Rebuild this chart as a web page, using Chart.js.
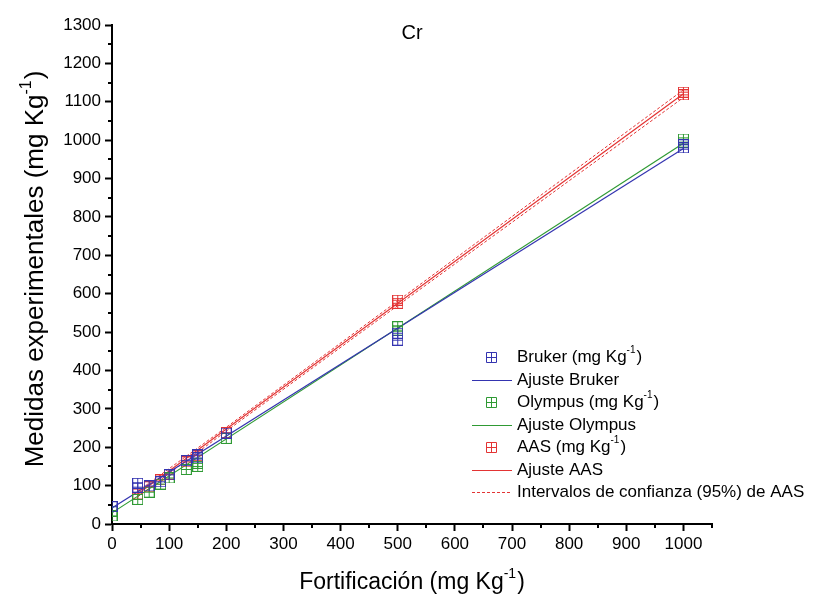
<!DOCTYPE html>
<html>
<head>
<meta charset="utf-8">
<title>Cr</title>
<script src="https://cdn.jsdelivr.net/npm/chart.js@4.4.1/dist/chart.umd.min.js"></script>
<style>
  body { margin: 0; background: #fff; }
  canvas { display: block; }
</style>
</head>
<body>
<canvas id="crChart" width="828" height="603"></canvas>
<script>
// Fortificación (mg/kg) y medidas de cada equipo
const fortBruker = [0, 45, 45, 65, 85, 100, 130, 150, 150, 200, 500, 500, 1000, 1000];
const medBruker  = [45, 106, 96, 99, 110, 128, 165, 180, 172, 237, 497, 479, 988, 980];

const fortOlympus = [0, 0, 45, 65, 85, 100, 130, 150, 150, 200, 500, 500, 1000, 1000];
const medOlympus  = [33, 21, 64, 83, 104, 120, 142, 158, 150, 223, 514, 505, 1003, 995];

const fortAAS = [45, 65, 85, 100, 130, 150, 200, 500, 500, 1000, 1000];
const medAAS  = [78, 97, 115, 130, 162, 178, 238, 583, 575, 1125, 1118];

// rectas de ajuste (extremos)
const ajusteBrukerX = [0, 1000];
const ajusteBrukerY = [42, 978];
const ajusteOlympusX = [0, 1000];
const ajusteOlympusY = [29, 992];
const ajusteAASX = [45, 1000];
const ajusteAASY = [78, 1121];

// intervalos de confianza 95% de AAS
const icX = [45, 200, 500, 1000];
const icSup = [85, 252, 581, 1131];
const icInf = [71, 242, 569, 1111];

const xTicks = [0, 100, 200, 300, 400, 500, 600, 700, 800, 900, 1000];

const AZUL = '#3434b0';
const VERDE = '#2f9a34';
const ROJO = '#e33434';
const FONT = '"Liberation Sans", Arial, sans-serif';

function pts(xs, ys) {
  return xs.map((x, i) => ({ x: x, y: ys[i] }));
}

// cuadrado con cruz, como el símbolo de Origin
function makeMarker(color, size) {
  const c = document.createElement('canvas');
  c.width = size + 1;
  c.height = size + 1;
  const g = c.getContext('2d');
  g.strokeStyle = color;
  g.lineWidth = 1;
  g.strokeRect(0.5, 0.5, size, size);
  const m = Math.floor(size / 2) + 0.5;
  g.beginPath();
  g.moveTo(m, 0.5); g.lineTo(m, size + 0.5);
  g.moveTo(0.5, m); g.lineTo(size + 0.5, m);
  g.stroke();
  return c;
}

const mkAzul = makeMarker(AZUL, 10), mkVerde = makeMarker(VERDE, 10), mkRojo = makeMarker(ROJO, 10);

// texto con superíndice: base + sup + cola
function drawSup(ctx, base, sup, tail, x, y, size, align) {
  const supSize = Math.round(size * 0.6);
  ctx.font = size + 'px ' + FONT;
  const wb = ctx.measureText(base).width;
  const wt = ctx.measureText(tail).width;
  ctx.font = supSize + 'px ' + FONT;
  const ws = ctx.measureText(sup).width;
  const total = wb + ws + wt + 1;
  let x0 = align === 'center' ? x - total / 2 : x;
  ctx.textAlign = 'left';
  ctx.textBaseline = 'middle';
  ctx.font = size + 'px ' + FONT;
  ctx.fillText(base, x0, y);
  ctx.font = supSize + 'px ' + FONT;
  ctx.fillText(sup, x0 + wb, y - size * 0.38);
  ctx.font = size + 'px ' + FONT;
  ctx.fillText(tail, x0 + wb + ws + 1, y);
}

const extras = {
  id: 'extras',
  afterDraw(chart) {
    const ctx = chart.ctx;
    const xs = chart.scales.x, ys = chart.scales.y;
    const area = chart.chartArea;
    ctx.save();

    // ticks menores
    ctx.strokeStyle = '#000';
    ctx.lineWidth = 2;
    ctx.beginPath();
    for (let v = 50; v <= 1050; v += 100) {
      const px = Math.round(xs.getPixelForValue(v));
      ctx.moveTo(px, area.bottom);
      ctx.lineTo(px, area.bottom + 4);
    }
    for (let v = 50; v <= 1250; v += 100) {
      const py = Math.round(ys.getPixelForValue(v));
      ctx.moveTo(area.left, py);
      ctx.lineTo(area.left - 4, py);
    }
    ctx.stroke();

    ctx.fillStyle = '#000';
    // título
    ctx.font = '20px ' + FONT;
    ctx.textAlign = 'center';
    ctx.textBaseline = 'middle';
    ctx.fillText('Cr', (area.left + area.right) / 2, 33);

    // títulos de ejes
    drawSup(ctx, 'Fortificación (mg Kg', '-1', ')', (area.left + area.right) / 2, 583, 23, 'center');
    ctx.save();
    ctx.translate(36, 269);
    ctx.rotate(-Math.PI / 2);
    drawSup(ctx, 'Medidas experimentales (mg Kg', '-1', ')', 0, 0, 26, 'center');
    ctx.restore();

    // leyenda
    const lx = 472, tx = 517, y0 = 357, dy = 22.5;
    const filas = [
      { tipo: 'p', color: AZUL, base: 'Bruker (mg Kg', sup: '-1', tail: ')' },
      { tipo: 'l', color: AZUL, base: 'Ajuste Bruker' },
      { tipo: 'p', color: VERDE, base: 'Olympus (mg Kg', sup: '-1', tail: ')' },
      { tipo: 'l', color: VERDE, base: 'Ajuste Olympus' },
      { tipo: 'p', color: ROJO, base: 'AAS (mg Kg', sup: '-1', tail: ')' },
      { tipo: 'l', color: ROJO, base: 'Ajuste AAS' },
      { tipo: 'd', color: ROJO, base: 'Intervalos de confianza (95%) de AAS' }
    ];
    filas.forEach((f, i) => {
      const y = Math.round(y0 + i * dy);
      ctx.strokeStyle = f.color;
      ctx.lineWidth = 1;
      if (f.tipo === 'p') {
        const cx = 491.5, cy = y + 0.5;
        ctx.beginPath();
        ctx.rect(cx - 5, cy - 5, 10, 10);
        ctx.moveTo(cx, cy - 5); ctx.lineTo(cx, cy + 5);
        ctx.moveTo(cx - 5, cy); ctx.lineTo(cx + 5, cy);
        ctx.stroke();
      } else {
        ctx.setLineDash(f.tipo === 'd' ? [3, 2] : []);
        ctx.beginPath();
        ctx.moveTo(lx, y + 0.5);
        ctx.lineTo(lx + 40, y + 0.5);
        ctx.stroke();
        ctx.setLineDash([]);
      }
      ctx.fillStyle = '#000';
      if (f.sup) {
        drawSup(ctx, f.base, f.sup, f.tail, tx, y, 17, 'left');
      } else {
        ctx.font = '17px ' + FONT;
        ctx.textAlign = 'left';
        ctx.textBaseline = 'middle';
        ctx.fillText(f.base, tx, y);
      }
    });
    ctx.restore();
  }
};

const lineaBase = { showLine: true, pointRadius: 0, pointHoverRadius: 0, borderWidth: 1.2, tension: 0 };

new Chart(document.getElementById('crChart'), {
  type: 'scatter',
  data: {
    datasets: [
      { label: 'Bruker (mg Kg-1)', data: pts(fortBruker, medBruker), pointStyle: mkAzul, borderColor: AZUL, backgroundColor: AZUL },
      { label: 'Olympus (mg Kg-1)', data: pts(fortOlympus, medOlympus), pointStyle: mkVerde, borderColor: VERDE, backgroundColor: VERDE },
      { label: 'AAS (mg Kg-1)', data: pts(fortAAS, medAAS), pointStyle: mkRojo, borderColor: ROJO, backgroundColor: ROJO },
      Object.assign({ label: 'Ajuste Bruker', data: pts(ajusteBrukerX, ajusteBrukerY), borderColor: AZUL }, lineaBase),
      Object.assign({ label: 'Ajuste Olympus', data: pts(ajusteOlympusX, ajusteOlympusY), borderColor: VERDE }, lineaBase),
      Object.assign({ label: 'Ajuste AAS', data: pts(ajusteAASX, ajusteAASY), borderColor: ROJO }, lineaBase),
      Object.assign({ label: 'IC sup', data: pts(icX, icSup), borderColor: ROJO, borderDash: [3, 2] }, lineaBase, { borderWidth: 1 }),
      Object.assign({ label: 'IC inf', data: pts(icX, icInf), borderColor: ROJO, borderDash: [3, 2] }, lineaBase, { borderWidth: 1 })
    ]
  },
  options: {
    responsive: false,
    maintainAspectRatio: false,
    animation: false,
    layout: { padding: { top: 25, right: 116, left: 0, bottom: 0 } },
    plugins: {
      legend: { display: false },
      tooltip: { enabled: false },
      title: { display: false }
    },
    scales: {
      x: {
        type: 'linear',
        min: 0,
        max: 1050,
        afterFit: (s) => { s.height = 79; },
        afterBuildTicks: (s) => { s.ticks = xTicks.map(v => ({ value: v })); },
        ticks: {
          color: '#000',
          font: { size: 17, family: FONT },
          padding: 3,
          maxRotation: 0,
          autoSkip: false,
          callback: (v) => String(v)
        },
        grid: { drawOnChartArea: false, tickLength: 7, tickWidth: 2, tickColor: '#000' },
        border: { display: true, color: '#000', width: 2 }
      },
      y: {
        type: 'linear',
        min: 0,
        max: 1300,
        afterFit: (s) => { s.width = 112; },
        ticks: {
          stepSize: 100,
          color: '#000',
          font: { size: 17, family: FONT },
          padding: 4,
          autoSkip: false,
          callback: (v) => String(v)
        },
        grid: { drawOnChartArea: false, tickLength: 7, tickWidth: 2, tickColor: '#000' },
        border: { display: true, color: '#000', width: 2 }
      }
    }
  },
  plugins: [extras]
});
</script>
</body>
</html>
